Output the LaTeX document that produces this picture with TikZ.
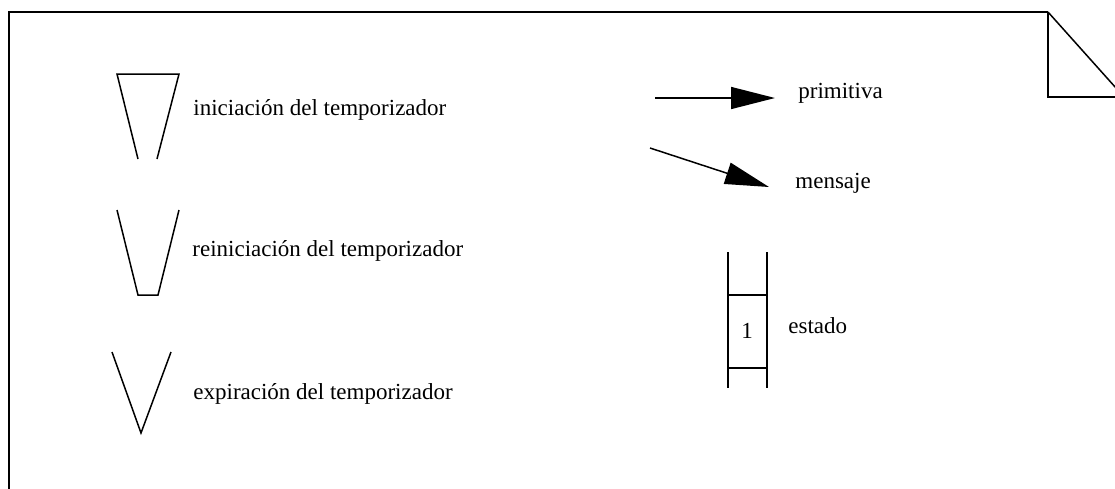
\documentclass[tikz,border=0pt]{standalone}
\usepackage{fontspec}
\setmainfont{Liberation Serif}
\usetikzlibrary{arrows.meta}

\begin{document}
\begin{tikzpicture}[x=0.5pt, y=-0.5pt,
  font=\fontsize{11.5}{14}\selectfont,
  lbl/.style={anchor=west, inner sep=0pt},
  sym/.style={line width=0.75pt},
  arr/.style={sym, -{Triangle[length=22pt, width=11pt]}}]
\useasboundingbox (0,0) rectangle (1115,488);
% page frame with folded corner
\draw[line width=1pt] (1048,12) -- (9,12) -- (9,490);
\draw[sym] (1048,12) -- (1048,97) -- (1116,97);
\draw[sym] (1048,12) -- (1116,88);
% timer symbols
\draw[sym] (138,159) -- (117,74) -- (179,74) -- (157,159);
\draw[sym] (117,210) -- (138,295) -- (158,295) -- (179,210);
\draw[sym] (112,352) -- (141,433) -- (171,352);
\node[lbl] (ini) at (193,110) {iniciación del temporizador};
\node[lbl] (reini) at (192,251) {reiniciación del temporizador};
\node[lbl] (expi) at (193,394) {expiración del temporizador};
% primitive and message
\coordinate (p0) at (655,98);
\coordinate (p1) at (775,98);
\coordinate (m0) at (650,148);
\coordinate (m1) at (769,187);
\draw[arr] (p0) -- (p1);
\draw[arr] (m0) -- (m1);
\node[lbl] (prim) at (798,93) {primitiva};
\node[lbl] (mens) at (795,183) {mensaje};
% state
\node[inner sep=0pt] (st) at (747,331) {1};
\foreach \x in {728,767} \draw[sym] (\x,252) -- (\x,388);
\foreach \y in {295,368} \draw[sym] (728,\y) -- (767,\y);
\node[lbl] (est) at (788,326) {estado};
\end{tikzpicture}
\end{document}
